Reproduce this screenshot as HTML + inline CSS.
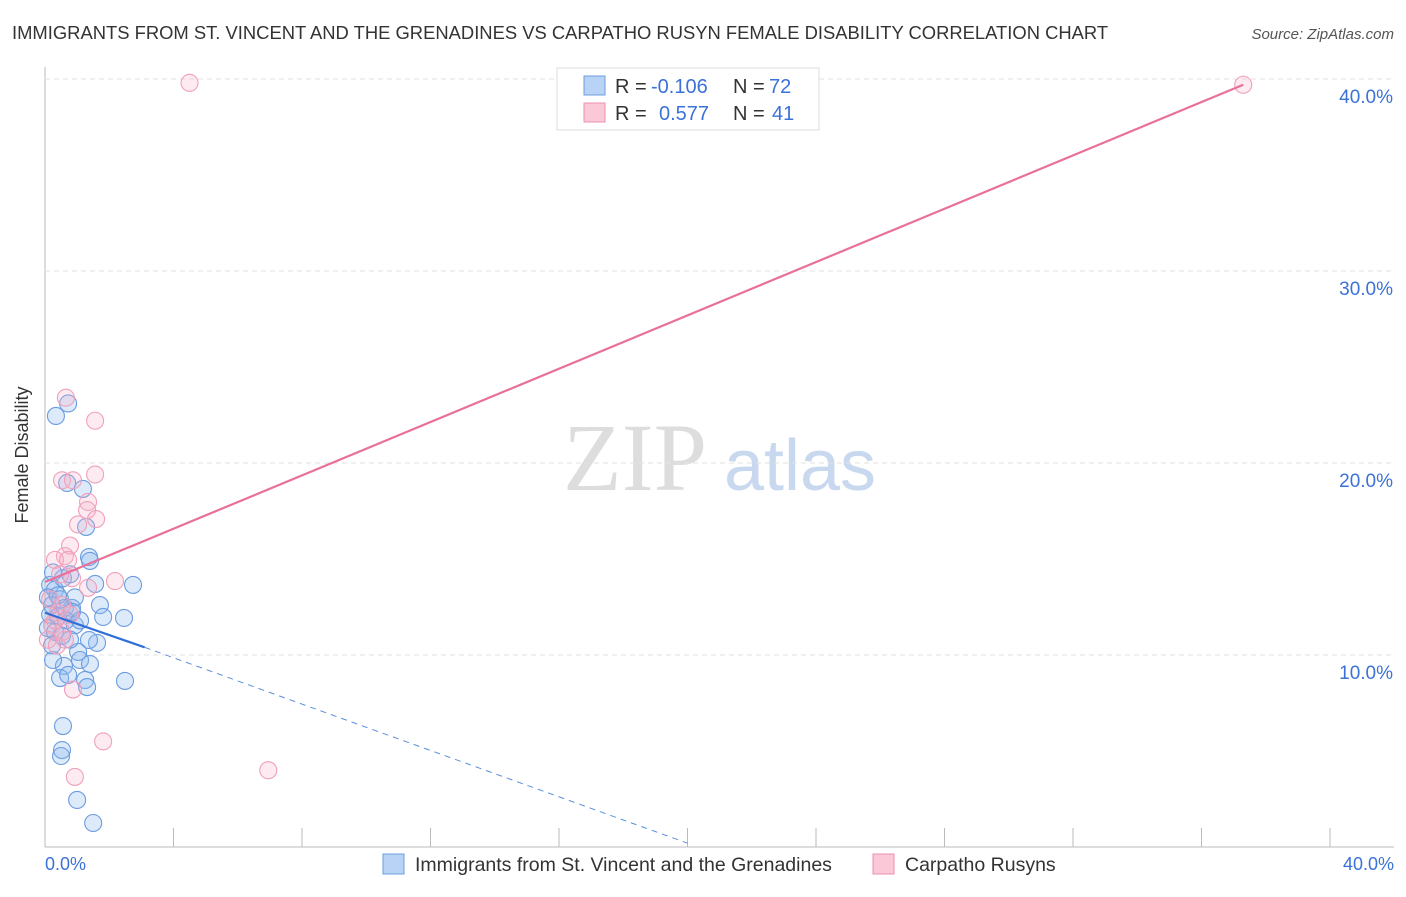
<!DOCTYPE html>
<html><head><meta charset="utf-8"><style>
body{margin:0;background:#fff;font-family:"Liberation Sans",sans-serif}
</style></head><body>
<svg id="c" width="1406" height="892" xmlns="http://www.w3.org/2000/svg">
<text x="12" y="39" font-size="18.4" fill="#333">IMMIGRANTS FROM ST. VINCENT AND THE GRENADINES VS CARPATHO RUSYN FEMALE DISABILITY CORRELATION CHART</text>
<text x="1394" y="39" font-size="15" fill="#555" font-style="italic" text-anchor="end">Source: ZipAtlas.com</text>
<text x="28" y="455" font-size="18" fill="#333" text-anchor="middle" transform="rotate(-90 28 455)">Female Disability</text>
<g><text x="635" y="490" font-size="96" fill="#ddd" font-family="Liberation Serif,serif" text-anchor="middle">ZIP</text><text x="800" y="490" font-size="72" fill="#c8d8ee" text-anchor="middle">atlas</text></g>
<g id="grid"></g><g id="pts"></g><g id="lines"></g>
<g>
<rect x="557" y="68" width="262" height="62" fill="#fff" stroke="#ddd"/>
<rect x="584" y="76" width="21" height="19" fill="#b8d3f5" stroke="#6c9ce0"/>
<rect x="584" y="103" width="21" height="19" fill="#fbc8d8" stroke="#ee8fae"/>
<text x="615" y="93" font-size="20" fill="#333">R =</text><text x="651" y="93" font-size="20" fill="#3b72d8">-0.106</text>
<text x="733" y="93" font-size="20" fill="#333">N =</text><text x="769" y="93" font-size="20" fill="#3b72d8">72</text>
<text x="615" y="120" font-size="20" fill="#333">R =</text><text x="659" y="120" font-size="20" fill="#3b72d8">0.577</text>
<text x="733" y="120" font-size="20" fill="#333">N =</text><text x="772" y="120" font-size="20" fill="#3b72d8">41</text>
</g>
<g>
<rect x="383" y="854" width="21" height="20" fill="#b8d3f5" stroke="#6c9ce0"/>
<text x="415" y="871" font-size="19.5" fill="#333">Immigrants from St. Vincent and the Grenadines</text>
<rect x="873" y="854" width="21" height="20" fill="#fbc8d8" stroke="#ee8fae"/>
<text x="905" y="871" font-size="19.5" fill="#333">Carpatho Rusyns</text>
</g>
<text x="45" y="870" font-size="18" fill="#3b72d8">0.0%</text>
<text x="1394" y="870" font-size="18" fill="#3b72d8" text-anchor="end">40.0%</text>
</svg>
<script>
const yTicks=[10,20,30,40];
const blueX=[0.34,0.72,0.69,1.18,1.28,1.37,1.4,2.74,1.56,1.71,1.81,2.46,1.62,1.37,1.03,1.09,1.4,0.59,0.25,0.47,0.72,1.25,1.31,2.49,0.56,0.53,0.5,1.0,1.5,0.16,0.31,0.09,0.47,0.22,0.62,0.84,0.16,0.4,0.65,0.93,0.09,0.31,0.53,0.78,0.22,0.4,0.93,0.56,0.25,0.78,0.84,1.09];
const blueY=[22.45,23.1,18.96,18.65,16.67,15.1,14.9,13.65,13.7,12.6,11.98,11.93,10.63,10.78,10.16,9.74,9.53,9.43,9.74,8.8,8.96,8.7,8.33,8.65,6.3,5.05,4.74,2.45,1.25,13.65,13.4,13,12.9,12.6,12.45,12.45,12.1,12,11.8,11.55,11.4,11.2,11,10.8,10.5,13.1,13,14,14.3,14.2,12.25,11.8];
const pinkX=[4.5,37.3,0.65,1.56,0.53,1.56,0.87,1.34,1.31,1.59,1.03,0.78,0.62,0.31,0.72,2.18,0.84,1.34,0.47,0.16,0.4,0.22,0.53,0.09,0.37,0.62,0.87,1.81,0.93,6.95,0.78,0.31,0.53];
const pinkY=[39.8,39.7,23.4,22.2,19.1,19.4,19.1,17.97,17.55,17.08,16.8,15.7,15.15,14.95,14.95,13.85,14.0,13.5,14.2,12.9,12.2,11.55,11.2,10.8,10.5,10.8,8.2,5.5,3.65,4.0,12.1,11.8,12.6];
const pinkTrend=[[0,13.8],[37.3,39.7]];
const blueTrend=[[0,12.2],[3.1,10.4],[20,0.2]];
const X=v=>45+v*1285/40, Y=v=>847-v*19.2;
const NS="http://www.w3.org/2000/svg";
function mk(t,a,p){const e=document.createElementNS(NS,t);for(const k in a)e.setAttribute(k,a[k]);p.appendChild(e);return e;}
const g=document.getElementById('grid');
const ax=mk('line',{x1:45,y1:67,x2:45,y2:847,stroke:'#bbb'},g);


const bx=mk('line',{x1:45,y1:847,x2:1394,y2:847,stroke:'#bbb'},g);


for(let i=1;i<=10;i++){const t=mk('line',{x1:X(i*4),y1:828,x2:X(i*4),y2:847,stroke:'#bbb'},g);

}
yTicks.forEach(v=>{const l=mk('line',{x1:45,y1:Y(v),x2:1394,y2:Y(v),stroke:'#e2e2e2','stroke-dasharray':'5,4'},g);


const t=mk('text',{x:1393,y:Y(v)+24,'font-size':19,fill:'#3b72d8','text-anchor':'end'},g);t.textContent=v.toFixed(1)+'%';

});
const p=document.getElementById('pts');
blueX.forEach((x,i)=>{const c=mk('circle',{cx:X(x),cy:Y(blueY[i]),r:8.5,fill:'rgba(140,185,240,0.3)',stroke:'#6c9ce0','stroke-width':1.1},p);

});
pinkX.forEach((x,i)=>{const c=mk('circle',{cx:X(x),cy:Y(pinkY[i]),r:8.5,fill:'rgba(248,175,200,0.25)',stroke:'#f0a0bb','stroke-width':1.1},p);

});
const L=document.getElementById('lines');
const pl=mk('line',{x1:X(pinkTrend[0][0]),y1:Y(pinkTrend[0][1]),x2:X(pinkTrend[1][0]),y2:Y(pinkTrend[1][1]),stroke:'#e8709a','stroke-width':2.2},L);


const bl=mk('line',{x1:X(blueTrend[0][0]),y1:Y(blueTrend[0][1]),x2:X(blueTrend[1][0]),y2:Y(blueTrend[1][1]),stroke:'#2f6fd8','stroke-width':2.2},L);


const bd=mk('line',{x1:X(blueTrend[1][0]),y1:Y(blueTrend[1][1]),x2:X(blueTrend[2][0]),y2:Y(blueTrend[2][1]),stroke:'#5b8fdc','stroke-width':1,'stroke-dasharray':'6,5'},L);


</script>
</body></html>
